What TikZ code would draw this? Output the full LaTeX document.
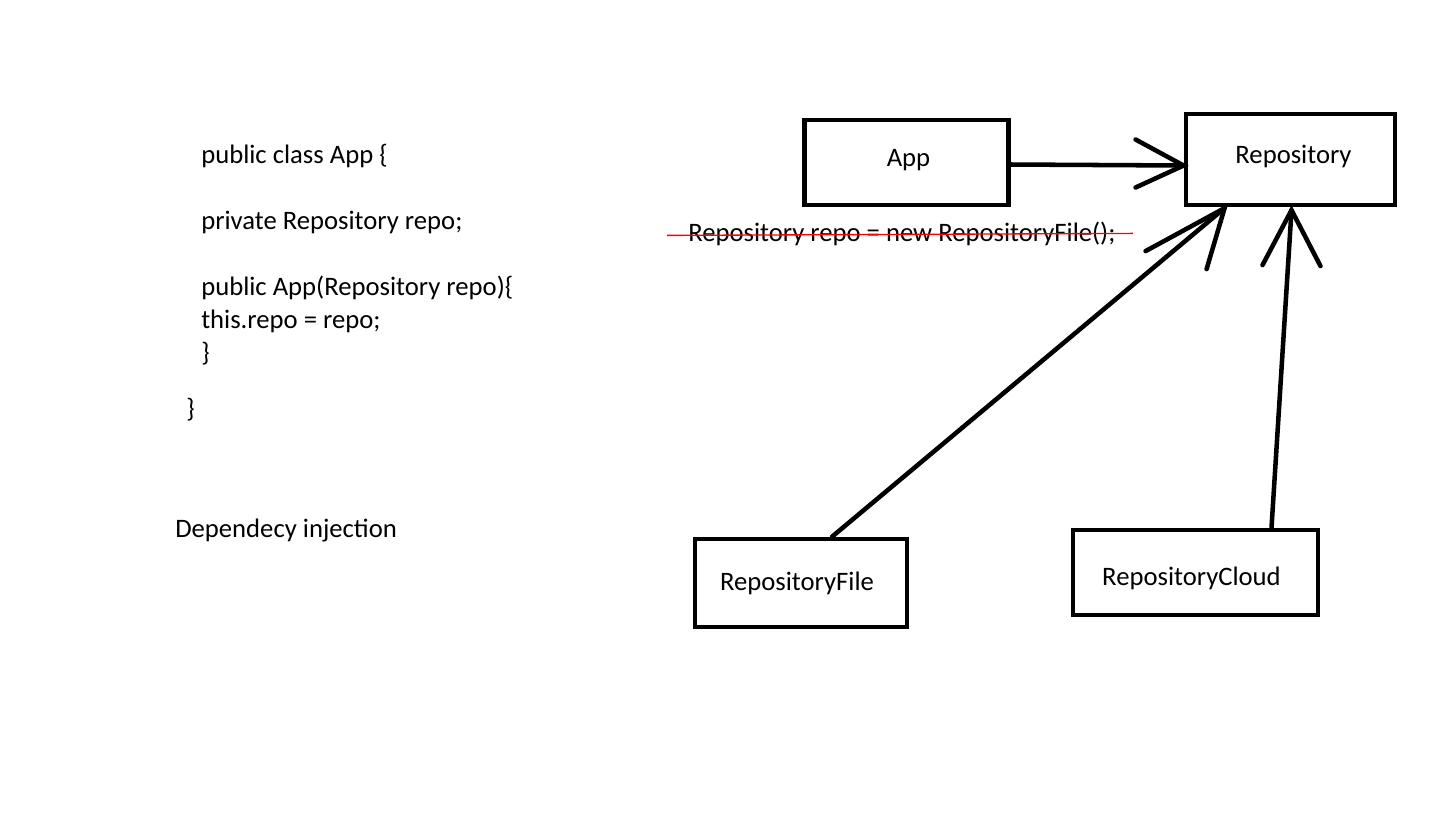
\documentclass[tikz,border=0pt]{standalone}
\usepackage{fontspec}
\setmainfont{Carlito}
\usetikzlibrary{calc}
\begin{document}
\begin{tikzpicture}[x=0.75pt,y=-0.75pt,
  box/.style={draw,line width=3.4pt,inner sep=0pt},
  lbl/.style={inner sep=0pt,font=\fontsize{20}{24}\selectfont},
  txt/.style={inner sep=0pt,anchor=base west,font=\fontsize{20}{24}\selectfont},
  conn/.style={line width=3.4pt,line cap=round}]
\useasboundingbox (0,0) rectangle (1433,819);
\fill[white] (0,0) rectangle (1433,819);
% code text
\node[txt] (c1) at (201,163) {public class App \{};
\node[txt] (c2) at (201,229) {private Repository repo;};
\node[txt] (c3) at (201,295) {public App(Repository repo)\{};
\node[txt] (c4) at (201,328) {this.repo = repo;};
\node[txt] (c5) at (201,361) {\}};
\node[txt] (c6) at (186,417) {\}};
\node[txt] (di) at (175,537) {Dependecy injection};
% boxes
\node[box,minimum width=153pt,minimum height=64pt] (app) at (906.5,162.5) {};
\node[box,minimum width=157pt,minimum height=68pt] (repo) at (1290.5,159.5) {};
\node[box,minimum width=159pt,minimum height=66pt] (file) at (801,583) {};
\node[box,minimum width=184pt,minimum height=64pt] (cloud) at (1195.5,572.5) {};
\node[lbl] (appL) at ($(app)+(2,-2)$) {App};
\node[lbl] (repoL) at ($(repo)+(3,-3)$) {Repository};
\node[lbl] (fileL) at ($(file)+(-4,0)$) {RepositoryFile};
\node[lbl] (cloudL) at ($(cloud)+(-4,6)$) {RepositoryCloud};
% struck-through text
\node[txt] (strike) at (688,241) {Repository repo = new RepositoryFile();};
\draw[red,line width=1pt] ($(strike.west)+(-21,2)$) -- ($(strike.east)+(17,0)$);
% connectors
\coordinate (tA) at ($(repo.west)+(0,6)$);
\coordinate (tF) at ($(repo.south west)+(41,1)$);
\coordinate (tC) at ($(repo.south)+(1,3)$);
\draw[conn] ($(app.east)+(0,2)$) -- (tA);
\draw[conn] ($(tA)+(-48,-26)$) -- (tA) -- ($(tA)+(-48,22)$);
\draw[conn] ($(file.north)+(31,0)$) -- (tF);
\draw[conn] ($(tF)+(-79,43)$) -- (tF) -- ($(tF)+(-18,61)$);
\draw[conn] ($(cloud.north)+(76,0)$) -- (tC);
\draw[conn] ($(tC)+(-29,55)$) -- (tC) -- ($(tC)+(29,56)$);
\end{tikzpicture}
\end{document}
